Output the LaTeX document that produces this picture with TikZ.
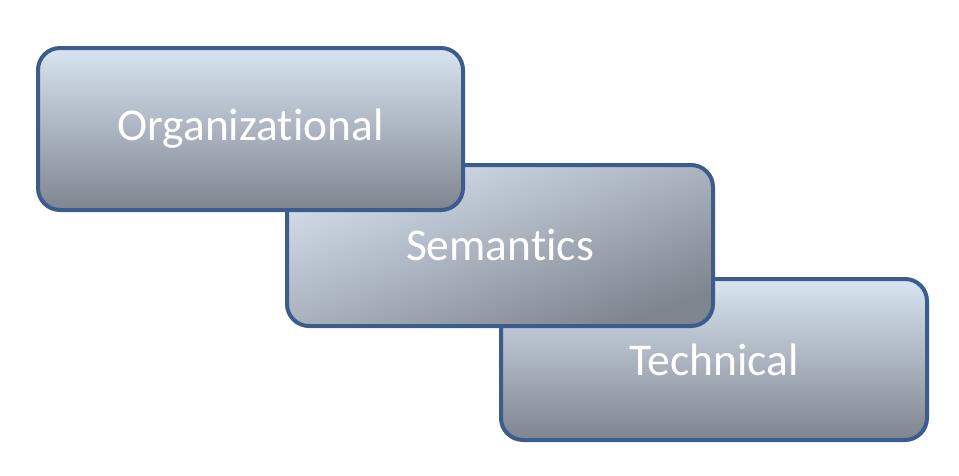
\documentclass[tikz,border=0pt]{standalone}
\usepackage{fontspec}
\setmainfont[Ligatures=NoCommon]{Carlito}
\definecolor{bordc}{HTML}{3B5C8C}
\definecolor{topc}{HTML}{D8E4F1}
\definecolor{botc}{HTML}{7F858F}
\begin{document}
\begin{tikzpicture}[x=1pt,y=-1pt,
  layerbox/.style={draw=bordc, line width=4pt, rounded corners=22pt},
  vgrad/.style={top color=topc, bottom color=botc},
  dgrad/.style={top color=topc!95!botc, bottom color=botc, shading angle=20},
  lbl/.style={text=white, font=\fontsize{45.5}{50}\selectfont}]
\useasboundingbox (0,0) rectangle (959,475);
\filldraw[layerbox, vgrad] (501,279) rectangle (927,440);
\node[lbl] (t3) at (714,359.5) {Technical};
\filldraw[layerbox, dgrad] (287,165) rectangle (713,326);
\node[lbl] (t2) at (500,245.5) {Semantics};
\filldraw[layerbox, vgrad] (38,48) rectangle (463,210);
\node[lbl] (t1) at (250.5,129) {Organizational};
\end{tikzpicture}
\end{document}
